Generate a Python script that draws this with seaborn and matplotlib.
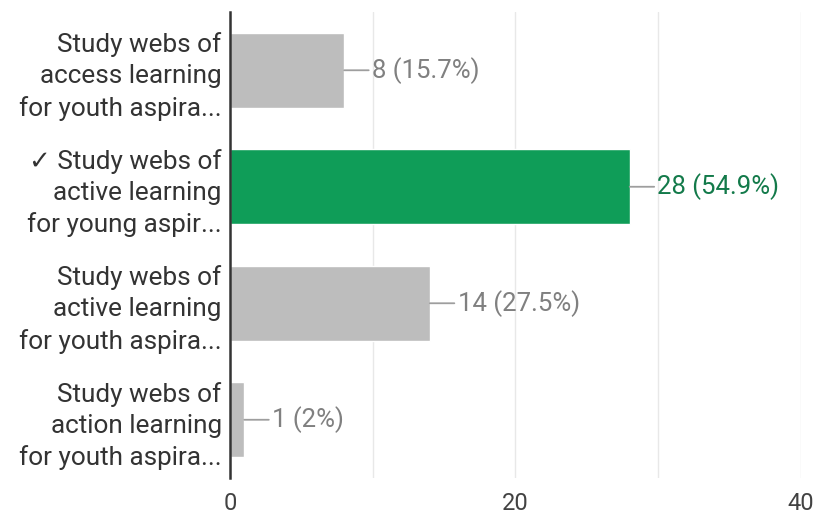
import matplotlib
matplotlib.use("Agg")
import matplotlib.pyplot as plt
import seaborn as sns
import pandas as pd

# --- data ---
labels = [
    "Study webs of\naccess learning\nfor youth aspira...",
    "\u2713 Study webs of\nactive learning\nfor young aspir...",
    "Study webs of\nactive learning\nfor youth aspira...",
    "Study webs of\naction learning\nfor youth aspira...",
]
counts = [8, 28, 14, 1]
percents = ["15.7%", "54.9%", "27.5%", "2%"]
correct = [False, True, False, False]

bar_colors = ["#0f9d58" if c else "#bdbdbd" for c in correct]
text_colors = ["#137a4a" if c else "#808080" for c in correct]

df = pd.DataFrame({"answer": labels, "count": counts})

sns.set_style("white")
plt.rcParams["font.family"] = ["Roboto", "DejaVu Sans"]

fig = plt.figure(figsize=(8.2, 5.18), dpi=100)
ax = fig.add_axes([0.2805, 0.0772, 0.6963, 0.8996])

sns.barplot(data=df, x="count", y="answer", hue="answer",
            palette=bar_colors, legend=False, width=0.64,
            saturation=1, ax=ax)

ax.set_xlim(0, 40)
ax.set_ylim(3.5, -0.5)
ax.set_xticks([0, 10, 20, 30, 40])
ax.set_xticklabels(["0", "", "20", "", "40"])
ax.grid(axis="x", color="#e8e8e8", linewidth=1)
ax.set_axisbelow(True)
ax.tick_params(axis="x", length=0, pad=10, labelsize=17, labelcolor="#424242")
ax.tick_params(axis="y", length=0, pad=6, labelsize=18.8, labelcolor="#333333")
for t in ax.get_yticklabels():
    t.set_linespacing(1.38)
ax.set_xlabel("")
ax.set_ylabel("")

for s in ["top", "right", "bottom"]:
    ax.spines[s].set_visible(False)
ax.spines["left"].set_color("#333333")
ax.spines["left"].set_linewidth(1.8)

# value labels with small leader line
for i, (c, p) in enumerate(zip(counts, percents)):
    ax.annotate(f"{c} ({p})", xy=(c, i), xytext=(20, 0),
                textcoords="offset points", ha="left", va="center",
                fontsize=18.5, color=text_colors[i],
                arrowprops=dict(arrowstyle="-", color="#9e9e9e", lw=1.3,
                                shrinkA=0, shrinkB=0))

fig.savefig("out.png", dpi=100)
